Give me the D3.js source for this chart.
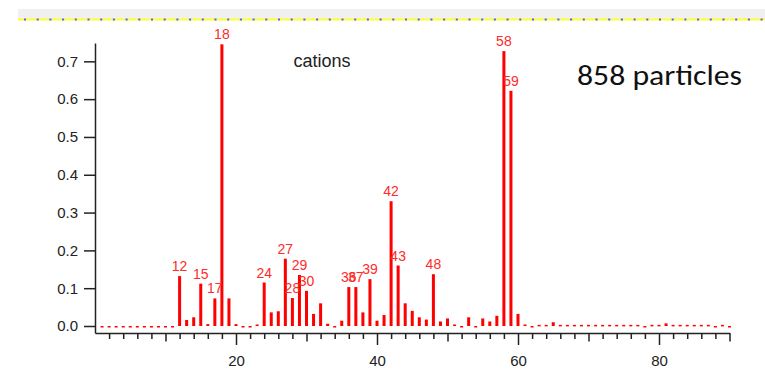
<!DOCTYPE html>
<html>
<head>
<meta charset="utf-8">
<script src="https://cdn.jsdelivr.net/npm/d3@7/dist/d3.min.js"></script>
<style>
  body { margin: 0; background: #fff; }
  svg { display: block; }
  .axis text { font-family: 'Liberation Sans', Arial, sans-serif; font-size: 15px; fill: #222; }
  .axis path, .axis line { stroke: #222; stroke-width: 1.5; }
</style>
</head>
<body>
<div id="chart"></div>
<script>
// m/z 1..90
const masses = d3.range(1, 91);
const fractions = [
  0, 0, 0, 0, 0, 0, 0, 0, 0, 0,                               // 1-10
  0, 0.132, 0.016, 0.023, 0.112, 0.005, 0.073, 0.745, 0.073, 0.005, // 11-20
  0, 0, 0.004, 0.115, 0.036, 0.039, 0.178, 0.074, 0.135, 0.093, // 21-30
  0.032, 0.060, 0.006, 0, 0.014, 0.103, 0.103, 0.036, 0.124, 0.014, // 31-40
  0.029, 0.330, 0.160, 0.060, 0.040, 0.023, 0.017, 0.137, 0.012, 0.020, // 41-50
  0.004, 0, 0.023, 0, 0.020, 0.012, 0.027, 0.727, 0.622, 0.032, // 51-60
  0.004, 0, 0.003, 0.003, 0.010, 0.003, 0.003, 0.003, 0.003, 0.003, // 61-70
  0.003, 0.003, 0.003, 0.003, 0.003, 0.003, 0.003, 0, 0.003, 0.003, // 71-80
  0.007, 0.003, 0.003, 0.003, 0.003, 0.003, 0.003, 0, 0.003, 0      // 81-90
];
const labelled = [12, 15, 17, 18, 24, 27, 28, 29, 30, 36, 37, 39, 42, 43, 48, 58, 59];
const yTicks = [0, 0.1, 0.2, 0.3, 0.4, 0.5, 0.6, 0.7];
const xMinorTicks = d3.range(2, 91, 2);
const xLabelTicks = [20, 40, 60, 80];
const title = 'cations';
const note = '858 particles';

const width = 765, height = 391;
const data = masses.map((m, i) => ({ mz: m, value: fractions[i] }));

const svg = d3.select('#chart').append('svg')
  .attr('width', width)
  .attr('height', height);

/* ---------- top band ---------- */
svg.append('rect').attr('x', 18).attr('y', 9).attr('width', width - 18).attr('height', 10).attr('fill', '#f0f0f0');
svg.append('line').attr('x1', 18).attr('x2', width).attr('y1', 19.5).attr('y2', 19.5)
  .attr('stroke', '#ffff33').attr('stroke-width', 2);
svg.append('line').attr('x1', 24).attr('x2', width).attr('y1', 19.5).attr('y2', 19.5)
  .attr('stroke', '#5a5aff').attr('stroke-width', 2).attr('stroke-dasharray', '2,10.7');

/* ---------- scales ---------- */
const xScale = d3.scaleLinear().domain([0, 90]).range([95, 729.5]);
const yScale = d3.scaleLinear().domain([-0.0185, 0.7485]).range([333, 43]);

/* ---------- axes ---------- */
svg.append('g')
  .attr('class', 'axis axis--y')
  .attr('transform', 'translate(95,0)')
  .call(d3.axisLeft(yScale).tickValues(yTicks).tickSize(11).tickSizeOuter(0).tickPadding(6)
    .tickFormat(d3.format('.1f')));

const xAxis = svg.append('g')
  .attr('class', 'axis axis--x')
  .attr('transform', 'translate(0,333)')
  .call(d3.axisBottom(xScale).tickValues(xMinorTicks).tickSizeOuter(0)
    .tickFormat(d => xLabelTicks.includes(d) ? d : ''));

xAxis.selectAll('.tick line')
  .attr('y2', d => d % 20 === 0 ? 12 : (d % 10 === 0 ? 8.5 : 6));
xAxis.selectAll('.tick text').attr('y', 22);

/* ---------- bars ---------- */
const y0 = yScale(0);
const barW = 3;
svg.append('g').attr('class', 'bars')
  .selectAll('rect')
  .data(data)
  .enter().append('rect')
  .attr('x', d => xScale(d.mz) - barW / 2)
  .attr('y', d => yScale(d.value))
  .attr('width', barW)
  .attr('height', d => Math.max(y0 - yScale(d.value), 1.5))
  .attr('fill', '#ff0000');

/* ---------- peak labels ---------- */
svg.append('g').attr('class', 'peak-labels')
  .selectAll('text')
  .data(data.filter(d => labelled.includes(d.mz)))
  .enter().append('text')
  .attr('x', d => xScale(d.mz))
  .attr('y', d => yScale(d.value) - 5)
  .attr('text-anchor', 'middle')
  .attr('font-family', "'Liberation Sans', Arial, sans-serif")
  .attr('font-size', 14)
  .attr('fill', '#ff2a2a')
  .text(d => d.mz);

/* ---------- titles ---------- */
svg.append('text')
  .attr('x', 322).attr('y', 67)
  .attr('text-anchor', 'middle')
  .attr('font-family', "'Liberation Sans', Arial, sans-serif")
  .attr('font-size', 18)
  .attr('fill', '#222')
  .text(title);

svg.append('text')
  .attr('x', 577).attr('y', 85)
  .attr('font-family', "Carlito, Calibri, 'Open Sans', sans-serif")
  .attr('font-size', 28)
  .attr('textLength', 165)
  .attr('lengthAdjust', 'spacingAndGlyphs')
  .attr('fill', '#111')
  .text(note);
</script>
</body>
</html>
